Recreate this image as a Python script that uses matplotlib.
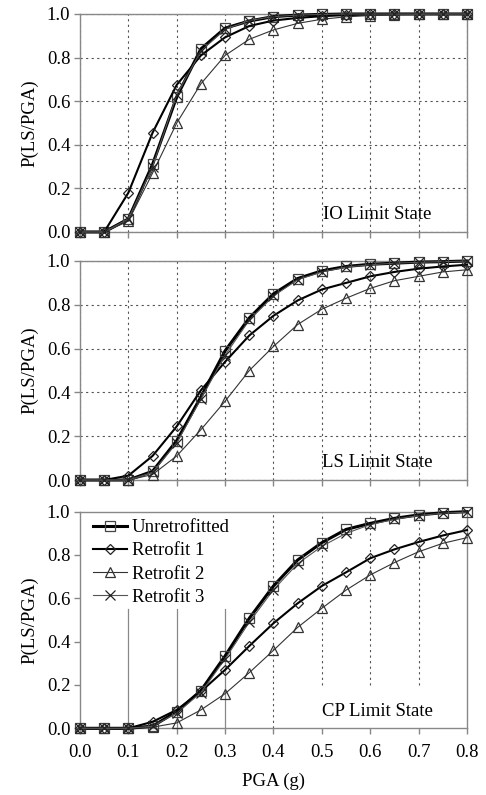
import matplotlib
matplotlib.use('Agg')
import matplotlib.pyplot as plt

# PGA (g) sample points
pga = [0.0, 0.05, 0.1, 0.15, 0.2, 0.25, 0.3, 0.35, 0.4, 0.45, 0.5, 0.55, 0.6, 0.65, 0.7, 0.75, 0.8]

# IO limit state
io_unretro = [0, 0, 0.06, 0.31, 0.62, 0.84, 0.935, 0.968, 0.988, 0.995, 0.998, 1, 1, 1, 1, 1, 1]
io_retro1 = [0, 0, 0.18, 0.455, 0.675, 0.81, 0.893, 0.945, 0.97, 0.982, 0.99, 0.995, 0.998, 1, 1, 1, 1]
io_retro2 = [0, 0, 0.05, 0.27, 0.50, 0.68, 0.81, 0.884, 0.927, 0.957, 0.976, 0.987, 0.993, 0.996, 0.998, 1, 1]
io_retro3 = [0, 0, 0.06, 0.30, 0.63, 0.83, 0.93, 0.97, 0.988, 0.995, 0.998, 1, 1, 1, 1, 1, 1]

# LS limit state
ls_unretro = [0, 0, 0, 0.04, 0.18, 0.38, 0.59, 0.74, 0.85, 0.92, 0.955, 0.975, 0.985, 0.99, 0.995, 0.997, 1.0]
ls_retro1 = [0, 0, 0.02, 0.11, 0.245, 0.41, 0.54, 0.66, 0.75, 0.82, 0.87, 0.90, 0.93, 0.95, 0.965, 0.975, 0.983]
ls_retro2 = [0, 0, 0, 0.025, 0.11, 0.23, 0.36, 0.50, 0.61, 0.71, 0.78, 0.83, 0.875, 0.91, 0.93, 0.95, 0.96]
ls_retro3 = [0, 0, 0, 0.035, 0.17, 0.37, 0.57, 0.73, 0.84, 0.915, 0.95, 0.972, 0.983, 0.99, 0.994, 0.997, 1.0]

# CP limit state
cp_unretro = [0, 0, 0, 0.01, 0.077, 0.174, 0.334, 0.508, 0.657, 0.777, 0.857, 0.918, 0.946, 0.969, 0.985, 0.995, 1.0]
cp_retro1 = [0, 0, 0, 0.03, 0.085, 0.17, 0.27, 0.38, 0.485, 0.577, 0.657, 0.72, 0.785, 0.826, 0.86, 0.89, 0.915]
cp_retro2 = [0, 0, 0, 0.005, 0.025, 0.085, 0.16, 0.257, 0.36, 0.466, 0.554, 0.638, 0.708, 0.765, 0.815, 0.854, 0.88]
cp_retro3 = [0, 0, 0, 0.01, 0.07, 0.165, 0.32, 0.49, 0.64, 0.76, 0.84, 0.90, 0.94, 0.965, 0.982, 0.993, 0.998]

series_names = ['Unretrofitted', 'Retrofit 1', 'Retrofit 2', 'Retrofit 3']
panels = [
    ('IO Limit State', [io_unretro, io_retro1, io_retro2, io_retro3]),
    ('LS Limit State', [ls_unretro, ls_retro1, ls_retro2, ls_retro3]),
    ('CP Limit State', [cp_unretro, cp_retro1, cp_retro2, cp_retro3]),
]

plt.rcParams['font.family'] = ['Liberation Serif', 'DejaVu Serif']
plt.rcParams['font.size'] = 13.5

styles = [
    dict(marker='s', lw=2.2, ms=7.5, color='black', mec='#444444'),
    dict(marker='D', lw=1.5, ms=5.5, color='black', mec='#222222'),
    dict(marker='^', lw=0.8, ms=7.5, color='#333333', mec='#333333'),
    dict(marker='x', lw=0.8, ms=7.5, color='#555555', mec='#222222'),
]

fig = plt.figure(figsize=(4.86, 7.95), dpi=100)
boxes = [
    [0.1646, 0.7082, 0.7963, 0.2742],
    [0.1646, 0.3962, 0.7963, 0.2755],
    [0.1646, 0.0839, 0.7963, 0.2725],
]
gray = '#888888'

for k in range(0, 3):
    title, data = panels[k]
    ax = fig.add_axes(boxes[k])
    ax.set_xlim(0, 0.8)
    ax.set_ylim(0, 1.0)
    ax.set_xticks([0.0, 0.1, 0.2, 0.3, 0.4, 0.5, 0.6, 0.7, 0.8])
    ax.set_yticks([0.0, 0.2, 0.4, 0.6, 0.8, 1.0])
    ax.yaxis.set_major_formatter(matplotlib.ticker.FormatStrFormatter('%.1f'))
    ax.xaxis.set_major_formatter(matplotlib.ticker.FormatStrFormatter('%.1f'))
    for s in ax.spines.values():
        s.set_color(gray)
        s.set_linewidth(1.0)
    ax.tick_params(direction='out', length=4, color=gray, width=1.0, pad=3)
    ax.tick_params(axis='x', pad=7)

    if k < 2:
        ax.grid(True, linestyle=(0, (2, 3)), color='#555555', linewidth=0.8)
        ax.tick_params(axis='x', labelbottom=False)
    else:
        for xv in [0.1, 0.2, 0.3]:
            ax.axvline(xv, ymin=0, ymax=0.55, color=gray, lw=0.9, zorder=0)
        ax.axvline(0.4, color='#555555', lw=0.8, ls=(0, (2, 3)), zorder=0)
        for xv in [0.5, 0.6, 0.7]:
            ax.axvline(xv, ymin=0.2, ymax=1, color='#555555', lw=0.8, ls=(0, (2, 3)), zorder=0)
        ax.set_xlabel('PGA (g)', labelpad=9)

    ax.set_axisbelow(True)
    for i in range(0, 4):
        st = styles[i]
        ax.plot(pga, data[i], marker=st['marker'], lw=st['lw'], ms=st['ms'], color=st['color'],
                mfc='none', mec=st['mec'], mew=0.9, label=series_names[i], clip_on=False, zorder=3)

    ax.text(0.615, 0.078, title, ha='center', va='center', fontsize=13.5)
    ax.set_ylabel('P(LS/PGA)', labelpad=6)

    if k == 2:
        ax.legend(loc='upper left', frameon=False, handlelength=1.8, handletextpad=0.25,
                  labelspacing=0.32, borderaxespad=0.0, bbox_to_anchor=(0.015, 1.0))

plt.savefig('out.png', dpi=100)
